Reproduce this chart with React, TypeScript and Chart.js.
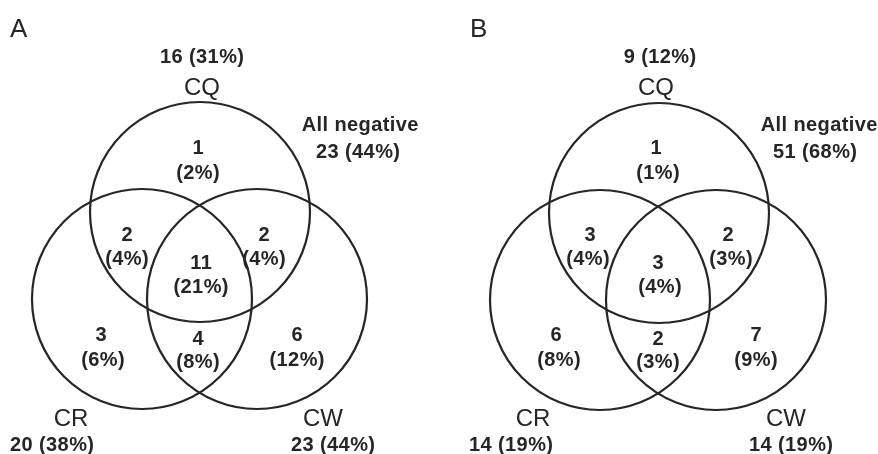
import React, { useEffect, useRef } from "react";
import { Chart, registerables } from "chart.js";

Chart.register(...registerables);

// ---------- data ----------
const panelNames = ["A", "B"];
const setNames = ["CQ", "CR", "CW"];
// set totals (CQ, CR, CW)
const setTotalsA = [16, 20, 23];
const setPctA = [31, 38, 44];
const setTotalsB = [9, 14, 14];
const setPctB = [12, 19, 19];
// all negative
const negativeA = [23, 44];
const negativeB = [51, 68];
// regions: onlyCQ, CQ&CR, CQ&CW, all three, CR&CW, onlyCR, onlyCW
const regionCountsA = [1, 2, 2, 11, 4, 3, 6];
const regionPctA = [2, 4, 4, 21, 8, 6, 12];
const regionCountsB = [1, 3, 2, 3, 2, 6, 7];
const regionPctB = [1, 4, 3, 4, 3, 8, 9];

// ---------- layout (pixel-like units of the hidden scales) ----------
const W = 878;
const H = 454;
const RADIUS = 110;
const panelLayout = [
  {
    letter: [10, 30],
    circles: [
      [200, 212],
      [142, 299],
      [257, 299],
    ],
    setTotal: [
      [202, 57],
      [52, 445],
      [333, 445],
    ],
    setName: [
      [202, 88],
      [71, 419],
      [323, 419],
    ],
    negTitle: [360, 125],
    negValue: [358, 152],
    regions: [
      [198, 148, 198, 173],
      [127, 235, 127, 259],
      [264, 235, 264, 259],
      [201, 263, 201, 287],
      [198, 339, 198, 362],
      [101, 335, 103, 360],
      [297, 335, 297, 360],
    ],
  },
  {
    letter: [470, 30],
    circles: [
      [659, 213],
      [600, 300],
      [716, 300],
    ],
    setTotal: [
      [660, 57],
      [511, 445],
      [791, 445],
    ],
    setName: [
      [656, 88],
      [533, 419],
      [786, 419],
    ],
    negTitle: [819, 125],
    negValue: [815, 152],
    regions: [
      [656, 148, 658, 173],
      [590, 235, 588, 259],
      [728, 235, 731, 259],
      [658, 263, 660, 287],
      [658, 339, 658, 362],
      [556, 335, 559, 360],
      [756, 335, 756, 360],
    ],
  },
];

const panelData = [
  { totals: setTotalsA, pct: setPctA, neg: negativeA, counts: regionCountsA, rpct: regionPctA },
  { totals: setTotalsB, pct: setPctB, neg: negativeB, counts: regionCountsB, rpct: regionPctB },
];

const INK = "#262626";
const BOLD = "bold 20px 'Liberation Sans', Arial, sans-serif";
const BOLD_SP = "0.4px";
const REG = "24px 'Liberation Sans', Arial, sans-serif";
const LETTER = "26px 'Liberation Sans', Arial, sans-serif";

const labelPlugin = {
  id: "vennLabels",
  afterDatasetsDraw(chart: any) {
    const ctx = chart.ctx as CanvasRenderingContext2D;
    const xs = chart.scales.x;
    const ys = chart.scales.y;
    const px = (v: number) => xs.getPixelForValue(v);
    const py = (v: number) => ys.getPixelForValue(v);
    ctx.save();
    ctx.fillStyle = INK;
    ctx.textBaseline = "middle";
    const put = (txt: string, x: number, y: number, font: string, spacing: string, align: CanvasTextAlign = "center") => {
      ctx.font = font;
      (ctx as any).letterSpacing = spacing;
      ctx.textAlign = align;
      let dx = 0;
      if (align === "center" && spacing !== "0px") dx = parseFloat(spacing) / 2;
      ctx.fillText(txt, px(x) + dx, py(y));
    };
    panelLayout.forEach((lay, p) => {
      const d = panelData[p];
      put(panelNames[p], lay.letter[0], lay.letter[1], LETTER, "0px", "left");
      setNames.forEach((name, i) => {
        put(name, lay.setName[i][0], lay.setName[i][1], REG, "0px");
        put(`${d.totals[i]} (${d.pct[i]}%)`, lay.setTotal[i][0], lay.setTotal[i][1], BOLD, BOLD_SP);
      });
      put("All negative", lay.negTitle[0], lay.negTitle[1], BOLD, BOLD_SP);
      put(`${d.neg[0]} (${d.neg[1]}%)`, lay.negValue[0], lay.negValue[1], BOLD, BOLD_SP);
      lay.regions.forEach((r, i) => {
        put(String(d.counts[i]), r[0], r[1], BOLD, BOLD_SP);
        put(`(${d.rpct[i]}%)`, r[2], r[3], BOLD, BOLD_SP);
      });
    });
    (ctx as any).letterSpacing = "0px";
    ctx.restore();
  },
};

export default function App() {
  const ref = useRef<HTMLCanvasElement | null>(null);
  useEffect(() => {
    if (!ref.current) return;
    const datasets = panelLayout.map((lay, p) => ({
      label: panelNames[p],
      data: lay.circles.map(([x, y]) => ({ x, y })),
      pointRadius: RADIUS,
      pointHoverRadius: RADIUS,
      pointBorderWidth: 2.2,
      pointBorderColor: INK,
      pointBackgroundColor: "rgba(0,0,0,0)",
      showLine: false,
      clip: false as any,
    }));
    const chart = new Chart(ref.current, {
      type: "scatter",
      data: { datasets },
      options: {
        animation: false,
        responsive: false,
        devicePixelRatio: 1,
        events: [],
        layout: { padding: 0, autoPadding: false },
        plugins: { legend: { display: false }, tooltip: { enabled: false } },
        scales: {
          x: { type: "linear", min: 0, max: W, display: false },
          y: { type: "linear", min: 0, max: H, reverse: true, display: false },
        },
      },
      plugins: [labelPlugin],
    });
    return () => chart.destroy();
  }, []);
  return (
    <div style={{ position: "fixed", left: 0, top: 0, width: W, height: H, background: "#fff" }}>
      <canvas ref={ref} width={W} height={H} style={{ display: "block" }} />
    </div>
  );
}
